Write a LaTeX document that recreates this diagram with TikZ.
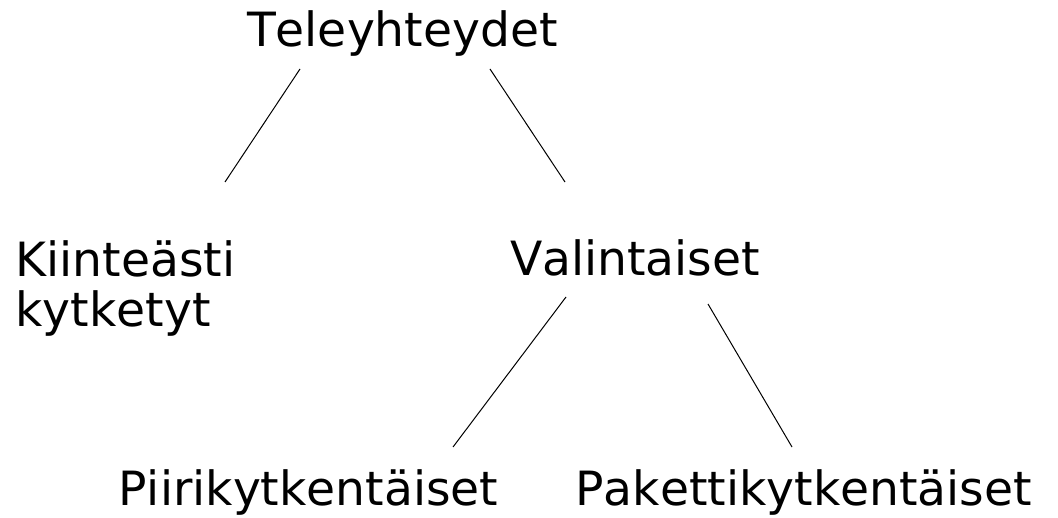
\documentclass[tikz,border=0pt]{standalone}
\usepackage{fontspec}
\setmainfont[Kerning=Off]{DejaVu Sans}
\begin{document}
\begin{tikzpicture}[x=1pt,y=-1pt,
  lbl/.style={anchor=base west,inner sep=0pt,outer sep=0pt,align=left,
    font=\fontsize{47.2}{50}\selectfont},
  link/.style={line width=1pt,black}]
\useasboundingbox (0,0) rectangle (1058,518);
\node[lbl] (tele) at (247,47) {Teleyhteydet};
\node[lbl] (kiint) at (15.5,327) {Kiinteästi\\kytketyt};
\node[lbl] (val) at (510,276) {Valintaiset};
\node[lbl] (piiri) at (118.5,505) {Piirikytkentäiset};
\node[lbl] (paketti) at (575.5,505) {Pakettikytkentäiset};
\coordinate (t1) at (300,69);
\coordinate (k1) at (225,182);
\coordinate (t2) at (490,69);
\coordinate (v1) at (565,182);
\coordinate (v2) at (566,297);
\coordinate (p1) at (453,447);
\coordinate (v3) at (708,304);
\coordinate (p2) at (792,447);
\draw[link] (t1) -- (k1);
\draw[link] (t2) -- (v1);
\draw[link] (v2) -- (p1);
\draw[link] (v3) -- (p2);
\end{tikzpicture}
\end{document}
